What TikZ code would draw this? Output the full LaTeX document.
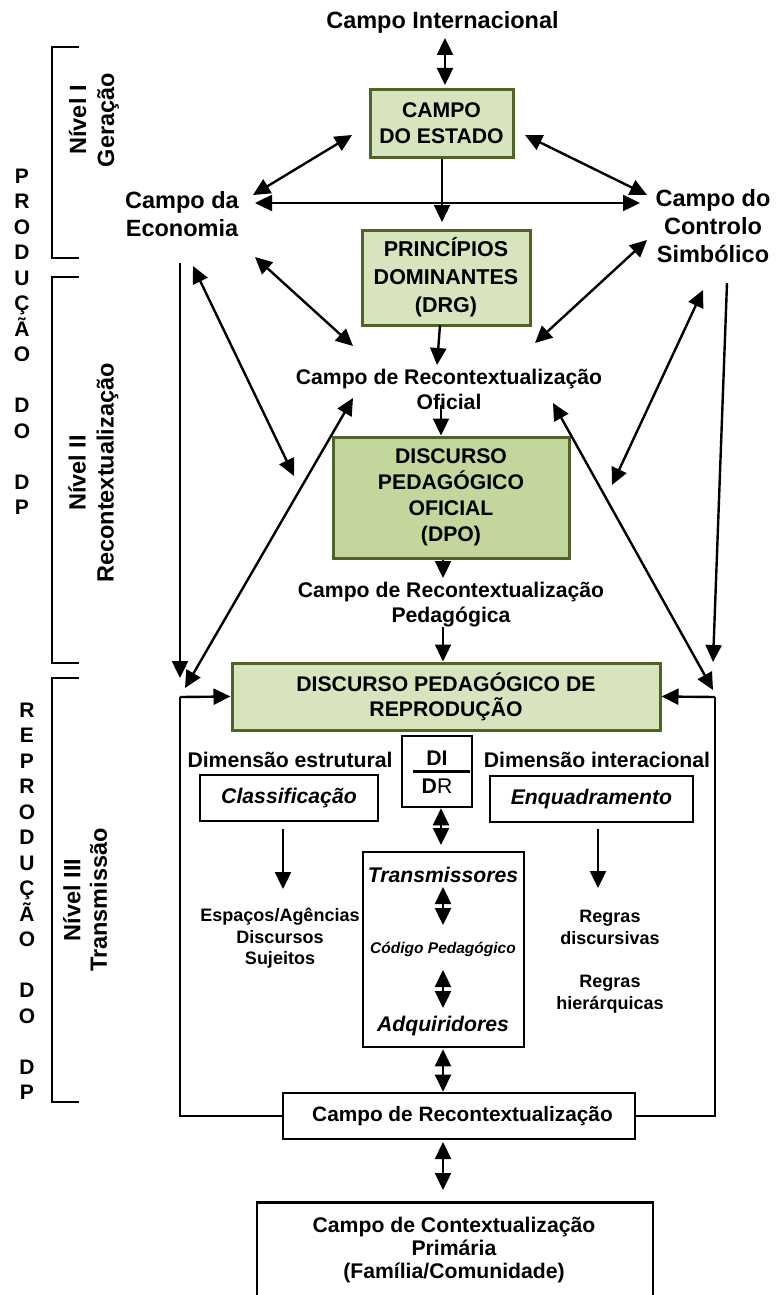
\documentclass[tikz,border=0pt]{standalone}
\usepackage{fontspec}
\setmainfont{Liberation Sans}
\usetikzlibrary{arrows.meta}
\definecolor{lgreen}{RGB}{215,228,189}
\definecolor{mgreen}{RGB}{195,214,155}
\definecolor{gborder}{RGB}{79,98,40}
\begin{document}
\begin{tikzpicture}[x=1pt,y=-1pt,
  big/.style={font=\bfseries\fontsize{23.5}{28}\selectfont, align=center, inner sep=0},
  mid/.style={font=\bfseries\fontsize{21.2}{25}\selectfont, align=center, inner sep=0},
  sml/.style={font=\bfseries\fontsize{18}{21.5}\selectfont, align=center, inner sep=0},
  bi/.style={font=\bfseries\itshape\fontsize{21.2}{25}\selectfont, inner sep=0},
  gbox/.style={draw=gborder, fill=lgreen, line width=3pt, inner sep=0, align=center, font=\bfseries\fontsize{21.2}{26}\selectfont},
  wbox/.style={draw=black, line width=2.6pt, fill=white, inner sep=0, align=center},
  letters/.style={font=\bfseries\fontsize{21}{25.5}\selectfont, align=center, inner sep=0},
  ln/.style={line width=2.4pt},
  arr/.style={line width=2.4pt, -{Triangle[length=17pt,width=16pt]}},
  darr/.style={line width=2.4pt, {Triangle[length=17pt,width=16pt]}-{Triangle[length=17pt,width=16pt]}},
]
\useasboundingbox (0,0) rectangle (779,1295);

% ---------- left side labels ----------
\node[letters] (prod) at (22,341.75) {P\\R\\O\\D\\U\\Ç\\Ã\\O\\\mbox{}\\D\\O\\\mbox{}\\D\\P};
\node[letters] (repr) at (27,901.25) {R\\E\\P\\R\\O\\D\\U\\Ç\\Ã\\O\\\mbox{}\\D\\O\\\mbox{}\\D\\P};
\draw[ln] (79,47) -- (52,47) -- (52,258) -- (79,258);
\draw[ln] (79,277) -- (52,277) -- (52,663) -- (79,663);
\draw[ln] (79,678) -- (52,678) -- (52,1102) -- (79,1102);
\node[big, rotate=90] (n1) at (94,120) {Nível I\\Geração};
\node[big, rotate=90] (n2) at (93.5,473) {Nível II\\Recontextualização};
\node[big, rotate=90, font=\bfseries\fontsize{23.5}{26.5}\selectfont] (n3) at (85,900) {Nível III\\Transmissão};

% ---------- level I ----------
\node[big] (intl) at (442.5,22) {Campo Internacional};
\node[gbox, minimum width=143pt, minimum height=67pt] (estado) at (441.5,123.5) {CAMPO\\DO ESTADO};
\node[big] (econ) at (182,214) {Campo da\\Economia};
\node[big] (simb) at (713,226.5) {Campo do\\Controlo\\Simbólico};
\node[gbox, minimum width=168pt, minimum height=95pt, font=\bfseries\fontsize{21.5}{28}\selectfont] (princ) at (446,277.5) {PRINCÍPIOS\\DOMINANTES\\(DRG)};

% ---------- level II ----------
\node[mid] (cro) at (449,389.5) {Campo de Recontextualização\\Oficial};
\node[gbox, fill=mgreen, minimum width=236pt, minimum height=121pt] (dpo) at (451,497.5) {DISCURSO\\PEDAGÓGICO\\OFICIAL\\(DPO)};
\node[mid] (crp) at (451,604.5) {Campo de Recontextualização\\Pedagógica};

% ---------- level III ----------
\node[gbox, minimum width=428pt, minimum height=67pt, font=\bfseries\fontsize{21.2}{25}\selectfont] (dpr) at (446,696.5) {DISCURSO PEDAGÓGICO DE\\REPRODUÇÃO};
\node[mid] (dest) at (290,760) {Dimensão estrutural};
\node[wbox, minimum width=178pt, minimum height=46pt, font=\bfseries\itshape\fontsize{21.2}{25}\selectfont] (class) at (289,798) {Classificação};
\node[mid] (dint) at (597,760) {Dimensão interacional};
\node[wbox, minimum width=203pt, minimum height=46pt, font=\bfseries\itshape\fontsize{21.2}{25}\selectfont] (enq) at (591.5,799) {Enquadramento};
\node[wbox, minimum width=70pt, minimum height=71pt] (didr) at (437,771.5) {};
\node[mid] (di) at (437,758) {DI};
\node[font=\fontsize{21.2}{25}\selectfont, inner sep=0] (dr) at (437,786) {\textbf{D}R};
\draw[ln] ([xshift=-24pt]didr.center) -- ([xshift=33pt]didr.center);

\node[sml] (esp) at (280,938.5) {Espaços/Agências\\Discursos\\Sujeitos};
\node[sml] (reg1) at (610,927.5) {Regras\\discursivas};
\node[sml] (reg2) at (610,994) {Regras\\hierárquicas};

\node[wbox, minimum width=161pt, minimum height=195pt] (cpbox) at (443.5,949.5) {};
\node[bi] (trans) at (443,875) {Transmissores};
\node[font=\bfseries\itshape\fontsize{15.5}{18}\selectfont, inner sep=0] (cod) at (443,949) {Código Pedagógico};
\node[bi] (adq) at (443,1026) {Adquiridores};

\node[wbox, minimum width=352pt, minimum height=46pt, font=\bfseries\fontsize{20.8}{25}\selectfont] (crbox) at (459,1116) {\hspace*{7pt}Campo de Recontextualização};
\node[wbox, minimum width=396pt, minimum height=160pt, anchor=north] (ccp) at (455,1201) {};
\node[font=\bfseries\fontsize{21.2}{23}\selectfont, align=center, inner sep=0] (ccpt) at (454,1250) {Campo de Contextualização\\Primária\\(Família/Comunidade)};

% ---------- coordinates ----------
\coordinate (a1) at (445,38);
\coordinate (a1b) at (445,85);
\coordinate (e1) at (253,195);
\coordinate (e2) at (352,135);
\coordinate (s1) at (525,135);
\coordinate (s2) at (647,195);
\coordinate (h1) at (255,203);
\coordinate (h2) at (640,203);
\coordinate (p1) at (442,222);
\coordinate (c1) at (255,257);
\coordinate (c2) at (353,346);
\coordinate (c3) at (647,240);
\coordinate (c4) at (535,343);
\coordinate (p2) at (440,325);
\coordinate (p3) at (437,365);
\coordinate (o1) at (441,405);
\coordinate (o2) at (443,578);
\coordinate (o3) at (443,627);
\coordinate (l1) at (193,266);
\coordinate (l2) at (294,476);
\coordinate (v1) at (180,263);
\coordinate (v2) at (180,678);
\coordinate (l3) at (185,688);
\coordinate (l4) at (353,398);
\coordinate (r1) at (703,290);
\coordinate (r2) at (612,485);
\coordinate (w1) at (727,283);
\coordinate (w2) at (713,662);
\coordinate (r3) at (553,403);
\coordinate (r4) at (713,690);
\coordinate (lc) at (180,697);
\coordinate (rc) at (715,697);
\coordinate (k0) at (283,829);
\coordinate (k1) at (283,889);
\coordinate (k3) at (598,829);
\coordinate (k2) at (598,888);
\coordinate (t1) at (441,845);
\coordinate (t2) at (443,887);
\coordinate (t3) at (443,925);
\coordinate (t4) at (443,970);
\coordinate (t5) at (443,1008);
\coordinate (t6) at (443,1142);
\coordinate (t7) at (443,1190);

% ---------- connectors ----------
\draw[darr] (a1) -- (a1b);
\draw[darr] (e1) -- (e2);
\draw[darr] (s1) -- (s2);
\draw[darr] (h1) -- (h2);
\draw[arr] (estado.south -| p1) -- (p1);
\draw[darr] (c1) -- (c2);
\draw[darr] (c3) -- (c4);
\draw[arr] (p2) -- (p3);
\draw[arr] (o1) -- (dpo.north -| o1);
\draw[arr] (dpo.south -| o2) -- (o2);
\draw[arr] (o3) -- (dpr.north -| o3);
\draw[darr] (l1) -- (l2);
\draw[arr] (v1) -- (v2);
\draw[darr] (l3) -- (l4);
\draw[darr] (r1) -- (r2);
\draw[arr] (w1) -- (w2);
\draw[darr] (r3) -- (r4);
\draw[arr] (lc) -- (dpr.west);
\draw[arr] (rc) -- (dpr.east);
\draw[ln] (lc) |- (crbox.west);
\draw[ln] (rc) |- (crbox.east);
\draw[arr] (k0) -- (k1);
\draw[arr] (k3) -- (k2);
\draw[darr] (didr.south -| t1) -- (t1);
\draw[darr] (t2) -- (t3);
\draw[darr] (t4) -- (t5);
\draw[darr] (cpbox.south -| t2) ++(0,1) -- (crbox.north -| t2);
\draw[darr] (t6) -- (t7);
\end{tikzpicture}
\end{document}
